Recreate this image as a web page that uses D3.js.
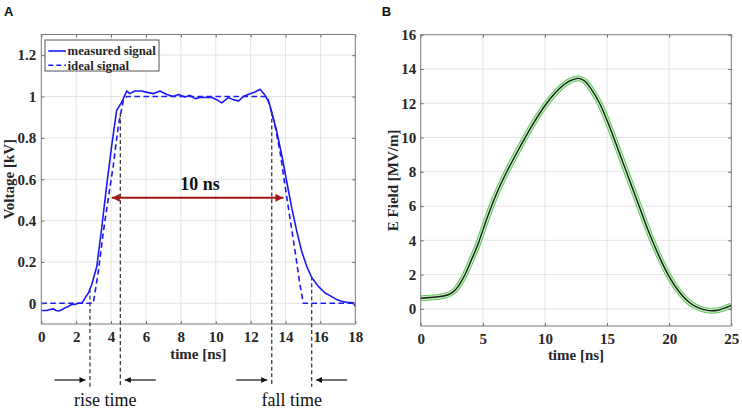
<!DOCTYPE html>
<html><head><meta charset="utf-8">
<script src="https://cdn.jsdelivr.net/npm/d3@7"></script>
<style>html,body{margin:0;padding:0;background:#fff;} svg{display:block;}</style>
</head><body><svg id="c" width="742" height="412"></svg>
<script>
// ---------- DATA ----------
// Panel A: measured signal [time ns, voltage kV]
const measuredSignal = [[0,-0.035],[0.3,-0.035],[0.5,-0.03],[0.69,-0.027],[0.85,-0.035],[1.0,-0.037],[1.2,-0.03],[1.36,-0.022],[1.55,-0.015],[1.74,-0.006],[1.93,-0.006],[2.1,0.0],[2.32,0.0],[2.5,0.025],[2.7,0.05],[2.89,0.09],[3.18,0.178],[3.46,0.363],[3.75,0.572],[4.04,0.765],[4.32,0.933],[4.61,0.973],[4.9,1.027],[5.07,1.014],[5.37,1.027],[5.75,1.027],[6.14,1.019],[6.42,1.014],[6.8,1.027],[7.19,1.01],[7.57,1.0],[7.86,1.01],[8.24,0.998],[8.53,1.006],[8.81,0.99],[9.1,0.995],[9.39,0.995],[9.77,0.995],[10.06,0.985],[10.34,0.969],[10.72,0.995],[11.0,0.985],[11.3,0.978],[11.58,1.0],[11.97,1.014],[12.25,1.022],[12.54,1.035],[12.83,1.006],[13.06,0.97],[13.21,0.925],[13.5,0.83],[13.8,0.71],[14.07,0.588],[14.36,0.46],[14.65,0.347],[14.93,0.25],[15.22,0.178],[15.5,0.125],[15.88,0.082],[16.27,0.05],[16.6,0.035],[16.94,0.018],[17.2,0.01],[17.5,0.005],[17.9,0.002],[18,-0.015]];
// Panel A: ideal signal
const idealSignal = [[0,0],[2.98,0],[3.27,0.154],[3.56,0.347],[3.84,0.508],[4.13,0.668],[4.42,0.861],[4.7,0.98],[4.9,1.0],[12.95,1.0],[13.4,0.86],[13.69,0.73],[13.97,0.57],[14.26,0.41],[14.55,0.25],[14.83,0.09],[15.02,0],[18,0]];
// Panel A annotations: rise/fall markers [time, top voltage]
const riseMarkers = [[2.79,0.07],[4.53,0.92]];
const fallMarkers = [[13.21,0.925],[15.5,0.13]];
const pulseArrow = {from:4.04, to:13.88, level:0.51, label:"10 ns"};
const xTicksA = [0,2,4,6,8,10,12,14,16,18];
const yTicksA = [0,0.2,0.4,0.6,0.8,1,1.2];
// Panel B: E field [time ns, MV/m]
const fieldSignal = [[0,0.62],[0.8,0.66],[1.57,0.72],[2.0,0.78],[2.37,0.88],[2.8,1.12],[3.18,1.5],[3.6,2.05],[3.98,2.68],[4.65,3.85],[5.3,5.22],[6.12,6.75],[6.93,8.0],[8.0,9.46],[9.07,10.83],[10.14,12.0],[11.2,12.87],[12.0,13.3],[12.7,13.45],[13.2,13.3],[13.7,12.85],[14.4,12.0],[15.2,10.63],[16.0,9.08],[16.8,7.52],[17.6,5.96],[18.4,4.41],[19.2,3.05],[20.0,1.88],[20.8,1.0],[21.6,0.39],[22.4,0.04],[23.2,-0.1],[23.9,-0.08],[24.6,0.08],[25,0.2]];
const xTicksB = [0,5,10,15,20,25];
const yTicksB = [0,2,4,6,8,10,12,14,16];

// ---------- DRAW ----------
const SERIF = "'Liberation Serif','Times New Roman',serif";
const SANS = "'Liberation Sans',Arial,sans-serif";
const TXT = "#262626";
const svg = d3.select("#c");

const defs = svg.append("defs");
function marker(id, color, len, hw) {
  defs.append("marker").attr("id", id).attr("viewBox", `${-len} ${-hw} ${len} ${2*hw}`)
    .attr("refX", 0).attr("refY", 0).attr("markerUnits", "userSpaceOnUse")
    .attr("markerWidth", len).attr("markerHeight", 2*hw).attr("orient", "auto-start-reverse")
    .append("path").attr("d", `M0,0L${-len},${-hw}L${-len},${hw}Z`).attr("fill", color);
}
marker("redHead", "#a31515", 8, 4);
marker("blackHead", "#111", 6, 3);

function frame(x, y, xTicks, yTicks) {
  const g = svg.append("g");
  const [x0, x1] = x.range(), [y0, y1] = y.range();
  g.append("g").selectAll("line").data(xTicks.filter(t => t > x.domain()[0] && t < x.domain()[1]))
    .join("line").attr("x1", d => x(d)).attr("x2", d => x(d)).attr("y1", y0).attr("y2", y1)
    .attr("stroke", "#e4e4e4").attr("stroke-width", 1);
  g.append("g").selectAll("line").data(yTicks.filter(t => t > y.domain()[0] && t < y.domain()[1]))
    .join("line").attr("y1", d => y(d)).attr("y2", d => y(d)).attr("x1", x0).attr("x2", x1)
    .attr("stroke", "#e4e4e4").attr("stroke-width", 1);
  return g;
}
function axes(x, y, xTicks, yTicks, yFmt, yPad) {
  const [x0, x1] = x.range(), [y0, y1] = y.range();
  const style = sel => {
    sel.select(".domain").remove();
    sel.selectAll(".tick line").attr("stroke", "#6a6a6a");
    sel.selectAll("text").attr("font-family", SERIF).attr("font-weight", "bold")
      .attr("font-size", 15).attr("fill", TXT);
  };
  svg.append("g").attr("transform", `translate(0,${y0})`)
    .call(d3.axisBottom(x).tickValues(xTicks).tickSizeInner(-3).tickSizeOuter(0).tickPadding(7.5)).call(style);
  svg.append("g").attr("transform", `translate(0,${y1})`)
    .call(d3.axisTop(x).tickValues(xTicks).tickSizeInner(-3).tickSizeOuter(0).tickFormat("")).call(style);
  svg.append("g").attr("transform", `translate(${x0},0)`)
    .call(d3.axisLeft(y).tickValues(yTicks).tickSizeInner(-3).tickSizeOuter(0).tickPadding(yPad).tickFormat(yFmt)).call(style);
  svg.append("g").attr("transform", `translate(${x1},0)`)
    .call(d3.axisRight(y).tickValues(yTicks).tickSizeInner(-3).tickSizeOuter(0).tickFormat("")).call(style);
  svg.append("rect").attr("x", x0).attr("y", y1).attr("width", x1 - x0).attr("height", y0 - y1)
    .attr("fill", "none").attr("stroke", "#7a7a7a").attr("stroke-width", 1);
}

// ===== Panel A =====
const xA = d3.scaleLinear().domain([0, 18]).range([41.3, 355.3]);
const yA = d3.scaleLinear().domain([-0.1, 1.3]).range([324, 34.5]);
frame(xA, yA, xTicksA, yTicksA);
const lineA = d3.line().x(d => xA(d[0])).y(d => yA(d[1]));
svg.append("path").datum(idealSignal).attr("d", lineA).attr("fill", "none")
  .attr("stroke", "#1a1af5").attr("stroke-width", 1.6).attr("stroke-dasharray", "5.5,3.5");
svg.append("path").datum(measuredSignal).attr("d", lineA).attr("fill", "none")
  .attr("stroke", "#1a1af5").attr("stroke-width", 1.6).attr("stroke-linejoin", "round");
axes(xA, yA, xTicksA, yTicksA, d => d3.format("~g")(d), 5);

// rise / fall dashed markers
const markerBottom = 386.7;
svg.append("g").selectAll("line").data(riseMarkers.concat(fallMarkers)).join("line")
  .attr("x1", d => xA(d[0])).attr("x2", d => xA(d[0]))
  .attr("y1", d => yA(d[1])).attr("y2", markerBottom)
  .attr("stroke", "#3a3a3a").attr("stroke-width", 1.3).attr("stroke-dasharray", "4,2.7");

// small arrows below the axis
const arrowY = 380;
function inArrow(t, dir) {
  const xt = xA(t) - dir * 4.5;
  svg.append("line").attr("x1", xt - dir * 31).attr("x2", xt).attr("y1", arrowY).attr("y2", arrowY)
    .attr("stroke", "#111").attr("stroke-width", 1.2).attr("marker-end", "url(#blackHead)");
}
inArrow(riseMarkers[0][0], 1); inArrow(riseMarkers[1][0], -1);
inArrow(fallMarkers[0][0], 1); inArrow(fallMarkers[1][0], -1);
svg.append("text").attr("x", (xA(riseMarkers[0][0]) + xA(riseMarkers[1][0])) / 2).attr("y", 406)
  .attr("text-anchor", "middle").attr("font-family", SERIF).attr("font-size", 18).attr("fill", "#111").text("rise time");
svg.append("text").attr("x", (xA(fallMarkers[0][0]) + xA(fallMarkers[1][0])) / 2).attr("y", 406)
  .attr("text-anchor", "middle").attr("font-family", SERIF).attr("font-size", 18).attr("fill", "#111").text("fall time");

// 10 ns arrow
svg.append("line").attr("x1", xA(pulseArrow.from)).attr("x2", xA(pulseArrow.to))
  .attr("y1", yA(pulseArrow.level)).attr("y2", yA(pulseArrow.level))
  .attr("stroke", "#a31515").attr("stroke-width", 2)
  .attr("marker-start", "url(#redHead)").attr("marker-end", "url(#redHead)");
svg.append("text").attr("x", xA(9.1)).attr("y", yA(pulseArrow.level) - 8)
  .attr("text-anchor", "middle").attr("font-family", SERIF).attr("font-weight", "bold")
  .attr("font-size", 18).attr("fill", "#111").text(pulseArrow.label);

// legend
const leg = svg.append("g");
leg.append("rect").attr("x", 45).attr("y", 40).attr("width", 114).attr("height", 31)
  .attr("fill", "#fff").attr("stroke", "#555").attr("stroke-width", 1);
[["measured signal", null, 51], ["ideal signal", "5,3", 65.3]].forEach(([lab, dash, yy]) => {
  const l = leg.append("line").attr("x1", 48.3).attr("x2", 66).attr("y1", yy).attr("y2", yy)
    .attr("stroke", "#1a1af5").attr("stroke-width", 1.6);
  if (dash) l.attr("stroke-dasharray", dash);
  leg.append("text").attr("x", 67.5).attr("y", yy + 4.2).attr("font-family", SERIF)
    .attr("font-weight", "bold").attr("font-size", 12.8).attr("fill", TXT).text(lab);
});

// axis titles A
svg.append("text").attr("x", (xA.range()[0] + xA.range()[1]) / 2).attr("y", 359)
  .attr("text-anchor", "middle").attr("font-family", SERIF).attr("font-weight", "bold")
  .attr("font-size", 15).attr("fill", TXT).text("time [ns]");
svg.append("text").attr("transform", `translate(13.5,${(yA.range()[0] + yA.range()[1]) / 2}) rotate(-90)`)
  .attr("text-anchor", "middle").attr("font-family", SERIF).attr("font-weight", "bold")
  .attr("font-size", 15).attr("fill", TXT).text("Voltage [kV]");
svg.append("text").attr("x", 4).attr("y", 16).attr("font-family", SANS).attr("font-weight", "bold")
  .attr("font-size", 13).attr("fill", "#111").text("A");

// ===== Panel B =====
const xB = d3.scaleLinear().domain([0, 25]).range([420.7, 731.3]);
const yB = d3.scaleLinear().domain([-1, 16]).range([326, 34.7]);
frame(xB, yB, xTicksB, yTicksB);
const lineB = d3.line().x(d => xB(d[0])).y(d => yB(d[1])).curve(d3.curveCatmullRom.alpha(0.5));
svg.append("path").datum(fieldSignal).attr("d", lineB).attr("fill", "none")
  .attr("stroke", "#5cc85c").attr("stroke-width", 5.8).attr("stroke-linejoin", "round");
svg.append("path").datum(fieldSignal).attr("d", lineB).attr("fill", "none")
  .attr("stroke", "#cdeec6").attr("stroke-width", 3.8).attr("stroke-linejoin", "round");
svg.append("path").datum(fieldSignal).attr("d", lineB).attr("fill", "none")
  .attr("stroke", "#0f1f10").attr("stroke-width", 1.4).attr("stroke-linejoin", "round");
axes(xB, yB, xTicksB, yTicksB, d => d3.format("~g")(d), 4.5);
svg.append("text").attr("x", (xB.range()[0] + xB.range()[1]) / 2).attr("y", 360)
  .attr("text-anchor", "middle").attr("font-family", SERIF).attr("font-weight", "bold")
  .attr("font-size", 15).attr("fill", TXT).text("time [ns]");
svg.append("text").attr("transform", `translate(398,${(yB.range()[0] + yB.range()[1]) / 2}) rotate(-90)`)
  .attr("text-anchor", "middle").attr("font-family", SERIF).attr("font-weight", "bold")
  .attr("font-size", 15).attr("fill", TXT).text("E Field [MV/m]");
svg.append("text").attr("x", 381.7).attr("y", 16).attr("font-family", SANS).attr("font-weight", "bold")
  .attr("font-size", 13).attr("fill", "#111").text("B");
</script>
</body></html>
